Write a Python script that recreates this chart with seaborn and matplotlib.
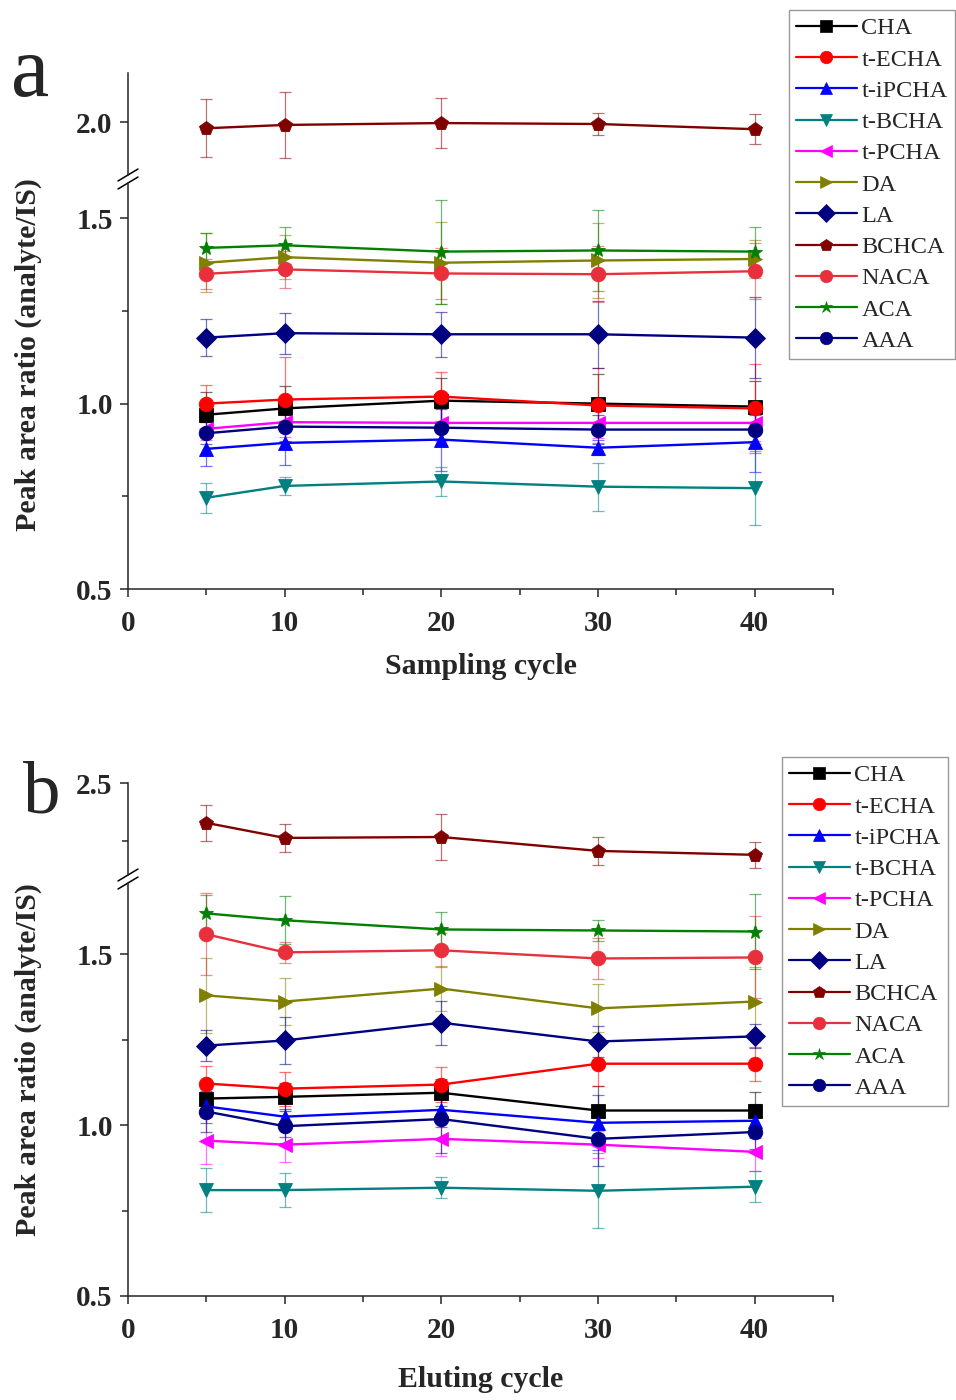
import numpy as np
import pandas as pd
import seaborn as sns
import matplotlib
matplotlib.use('Agg')
import matplotlib.pyplot as plt
from matplotlib.lines import Line2D
from matplotlib.ticker import MultipleLocator, FixedLocator

# x values (cycles)
cycles = [5, 10, 20, 30, 40]
compounds = ['CHA', 't-ECHA', 't-iPCHA', 't-BCHA', 't-PCHA', 'DA', 'LA',
             'BCHCA', 'NACA', 'ACA', 'AAA']

colors = {'CHA': '#000000', 't-ECHA': '#ff0000', 't-iPCHA': '#0000ff',
          't-BCHA': '#008080', 't-PCHA': '#ff00ff', 'DA': '#808000',
          'LA': '#000080', 'BCHCA': '#800000', 'NACA': '#e8303c',
          'ACA': '#008000', 'AAA': '#000080'}
markers = {'CHA': 's', 't-ECHA': 'o', 't-iPCHA': '^', 't-BCHA': 'v',
           't-PCHA': '<', 'DA': '>', 'LA': 'D', 'BCHCA': 'p', 'NACA': 'o',
           'ACA': '*', 'AAA': 'o'}

# ---- panel a: sampling cycle ----
a_cha = [0.970, 0.987, 1.008, 1.000, 0.992]
a_techa = [1.000, 1.011, 1.019, 0.995, 0.987]
a_tipcha = [0.878, 0.894, 0.903, 0.881, 0.896]
a_tbcha = [0.746, 0.778, 0.790, 0.776, 0.772]
a_tpcha = [0.932, 0.950, 0.948, 0.948, 0.948]
a_da = [1.380, 1.395, 1.380, 1.386, 1.390]
a_la = [1.178, 1.190, 1.187, 1.187, 1.178]
a_bchca = [1.987, 1.994, 1.998, 1.996, 1.985]
a_naca = [1.350, 1.362, 1.351, 1.349, 1.357]
a_aca = [1.420, 1.427, 1.410, 1.413, 1.410]
a_aaa = [0.920, 0.938, 0.935, 0.930, 0.930]

a_cha_err = [0.06, 0.06, 0.06, 0.08, 0.07]
a_techa_err = [0.05, 0.115, 0.065, 0.10, 0.12]
a_tipcha_err = [0.045, 0.06, 0.085, 0.02, 0.08]
a_tbcha_err = [0.04, 0.025, 0.04, 0.065, 0.10]
a_tpcha_err = [0.03, 0.04, 0.05, 0.04, 0.05]
a_da_err = [0.08, 0.06, 0.11, 0.10, 0.05]
a_la_err = [0.05, 0.055, 0.06, 0.09, 0.11]
a_bchca_err = [0.061, 0.070, 0.053, 0.023, 0.032]
a_naca_err = [0.04, 0.05, 0.07, 0.075, 0.075]
a_aca_err = [0.04, 0.05, 0.14, 0.11, 0.065]
a_aaa_err = [0.03, 0.04, 0.05, 0.04, 0.04]

# ---- panel b: eluting cycle ----
b_cha = [1.078, 1.083, 1.095, 1.043, 1.043]
b_techa = [1.122, 1.107, 1.119, 1.180, 1.180]
b_tipcha = [1.055, 1.025, 1.045, 1.007, 1.013]
b_tbcha = [0.810, 0.810, 0.817, 0.808, 0.820]
b_tpcha = [0.955, 0.943, 0.960, 0.943, 0.922]
b_da = [1.380, 1.362, 1.400, 1.342, 1.362]
b_la = [1.233, 1.248, 1.300, 1.245, 1.260]
b_bchca = [2.328, 2.263, 2.267, 2.207, 2.190]
b_naca = [1.559, 1.506, 1.512, 1.488, 1.491]
b_aca = [1.620, 1.600, 1.573, 1.570, 1.567]
b_aaa = [1.040, 0.997, 1.018, 0.960, 0.980]

b_cha_err = [0.04, 0.04, 0.04, 0.073, 0.053]
b_techa_err = [0.05, 0.05, 0.05, 0.065, 0.05]
b_tipcha_err = [0.05, 0.06, 0.05, 0.08, 0.05]
b_tbcha_err = [0.065, 0.05, 0.03, 0.11, 0.045]
b_tpcha_err = [0.07, 0.05, 0.05, 0.04, 0.055]
b_da_err = [0.11, 0.07, 0.065, 0.07, 0.10]
b_la_err = [0.045, 0.07, 0.065, 0.045, 0.035]
b_bchca_err = [0.078, 0.060, 0.100, 0.060, 0.056]
b_naca_err = [0.12, 0.03, 0.05, 0.06, 0.12]
b_aca_err = [0.055, 0.07, 0.05, 0.03, 0.11]
b_aaa_err = [0.06, 0.05, 0.10, 0.08, 0.05]

a_means = [a_cha, a_techa, a_tipcha, a_tbcha, a_tpcha, a_da, a_la, a_bchca, a_naca, a_aca, a_aaa]
a_errs = [a_cha_err, a_techa_err, a_tipcha_err, a_tbcha_err, a_tpcha_err, a_da_err,
          a_la_err, a_bchca_err, a_naca_err, a_aca_err, a_aaa_err]
b_means = [b_cha, b_techa, b_tipcha, b_tbcha, b_tpcha, b_da, b_la, b_bchca, b_naca, b_aca, b_aaa]
b_errs = [b_cha_err, b_techa_err, b_tipcha_err, b_tbcha_err, b_tpcha_err, b_da_err,
          b_la_err, b_bchca_err, b_naca_err, b_aca_err, b_aaa_err]


def to_frame(means, errs):
    rows = []
    for name, m, e in zip(compounds, means, errs):
        for x, y, s in zip(cycles, m, e):
            rows.append({'cycle': x, 'ratio': y, 'err': s, 'compound': name})
    return pd.DataFrame(rows)


df_a = to_frame(a_means, a_errs)
df_b = to_frame(b_means, b_errs)

sns.set_style('ticks')
plt.rcParams['font.family'] = ['Liberation Serif', 'DejaVu Serif']

W, H = 956, 1400
fig = plt.figure(figsize=(W / 100, H / 100), dpi=100)


def px_axes(left, right, top, bottom):
    return fig.add_axes([left / W, 1 - bottom / H, (right - left) / W, (bottom - top) / H])


def draw(ax, df):
    for name in compounds:
        sub = df[df['compound'] == name]
        ax.errorbar(sub['cycle'], sub['ratio'], yerr=sub['err'], fmt='none',
                    ecolor=colors[name], alpha=0.55, elinewidth=0.9,
                    capsize=4, capthick=0.9, zorder=1)
    sns.lineplot(data=df, x='cycle', y='ratio', hue='compound', style='compound',
                 hue_order=compounds, style_order=compounds, palette=colors,
                 markers=markers, dashes=False, markersize=10.5, linewidth=1.7,
                 markeredgewidth=0.6, markeredgecolor=None, legend=False,
                 errorbar=None, sort=False, ax=ax, zorder=3)


tick_font = dict(family='Liberation Serif', weight='bold', size=21)
label_font = dict(family='Liberation Serif', weight='bold', size=21.5)


def style_axes(ax_low, ax_up, low_lim, up_lim, up_major, up_minor, xlabel, xlabelpad):
    for ax in (ax_low, ax_up):
        ax.set_xlim(0, 45)
        sns.despine(ax=ax)
        ax.tick_params(direction='out', which='major', length=6, width=1.1)
        ax.tick_params(direction='out', which='minor', length=4, width=1.1)
        for sp in ax.spines.values():
            sp.set_linewidth(1.1)
        ax.set_xlabel('')
        ax.set_ylabel('')
    ax_low.set_ylim(*low_lim)
    ax_low.yaxis.set_major_locator(FixedLocator([0.5, 1.0, 1.5]))
    ax_low.yaxis.set_minor_locator(FixedLocator([0.75, 1.25]))
    ax_low.xaxis.set_minor_locator(MultipleLocator(5))
    ax_low.set_yticklabels(['0.5', '1.0', '1.5'], fontdict=tick_font)
    ax_low.set_xticks([0, 10, 20, 30, 40])
    ax_low.set_xticklabels(['0', '10', '20', '30', '40'], fontdict=tick_font)
    ax_low.tick_params(axis='x', pad=9)
    ax_low.tick_params(axis='y', pad=5)
    ax_low.set_xlabel(xlabel, fontdict=label_font, labelpad=xlabelpad)

    ax_up.set_ylim(*up_lim)
    ax_up.spines['bottom'].set_visible(False)
    ax_up.tick_params(axis='x', which='both', bottom=False, labelbottom=False)
    ax_up.tick_params(axis='y', pad=5)
    ax_up.yaxis.set_major_locator(FixedLocator(up_major))
    ax_up.yaxis.set_minor_locator(FixedLocator(up_minor))
    ax_up.set_yticklabels(['%.1f' % v for v in up_major], fontdict=tick_font)

    # break marks "//" on the left spine
    for ax, yy in ((ax_low, 1.0), (ax_up, 0.0)):
        bb = ax.get_position()
        dy = 6 / H / bb.height
        dx = 10 / W / bb.width
        ax.plot([-dx, dx], [yy - dy, yy + dy], transform=ax.transAxes,
                color='black', lw=1.1, clip_on=False)


def add_legend(x_right, y_top):
    handles = [Line2D([0], [0], color=colors[n], marker=markers[n], markersize=9,
                      linewidth=1.6, markeredgewidth=0.5) for n in compounds]
    leg = fig.legend(handles, compounds, loc='upper right',
                     bbox_to_anchor=(x_right / W, 1 - y_top / H),
                     prop=dict(family='Liberation Serif', size=17.5),
                     frameon=True, fancybox=False, edgecolor='#808080',
                     handlelength=2.5, handletextpad=0.2, labelspacing=0.38,
                     borderpad=0.3, borderaxespad=0)
    leg.get_frame().set_linewidth(1.0)


# panel a
a_low = px_axes(128, 833, 183, 589)
a_up = px_axes(128, 833, 73, 175)
draw(a_low, df_a)
draw(a_up, df_a)
style_axes(a_low, a_up, (0.5, 1.595), (1.888, 2.104), [2.0], [], 'Sampling cycle', 12)
add_legend(955, 10)

# panel b
b_low = px_axes(128, 833, 883, 1296)
b_up = px_axes(128, 833, 783, 875)
draw(b_low, df_b)
draw(b_up, df_b)
style_axes(b_low, b_up, (0.5, 1.709), (2.103, 2.5), [2.5], [2.25], 'Eluting cycle', 16)
add_legend(948, 757)

# y labels and panel letters
ylab = 'Peak area ratio (analyte/IS)'
fig.text(28 / W, 1 - 355 / H, ylab, rotation=90, ha='center', va='center', **label_font)
fig.text(28 / W, 1 - 1060 / H, ylab, rotation=90, ha='center', va='center', **label_font)
fig.text(30 / W, 1 - 75 / H, 'a', ha='center', va='center', fontsize=62, family='Liberation Serif')
fig.text(42 / W, 1 - 795 / H, 'b', ha='center', va='center', fontsize=54, family='Liberation Serif')

fig.savefig('out.png', dpi=100)
